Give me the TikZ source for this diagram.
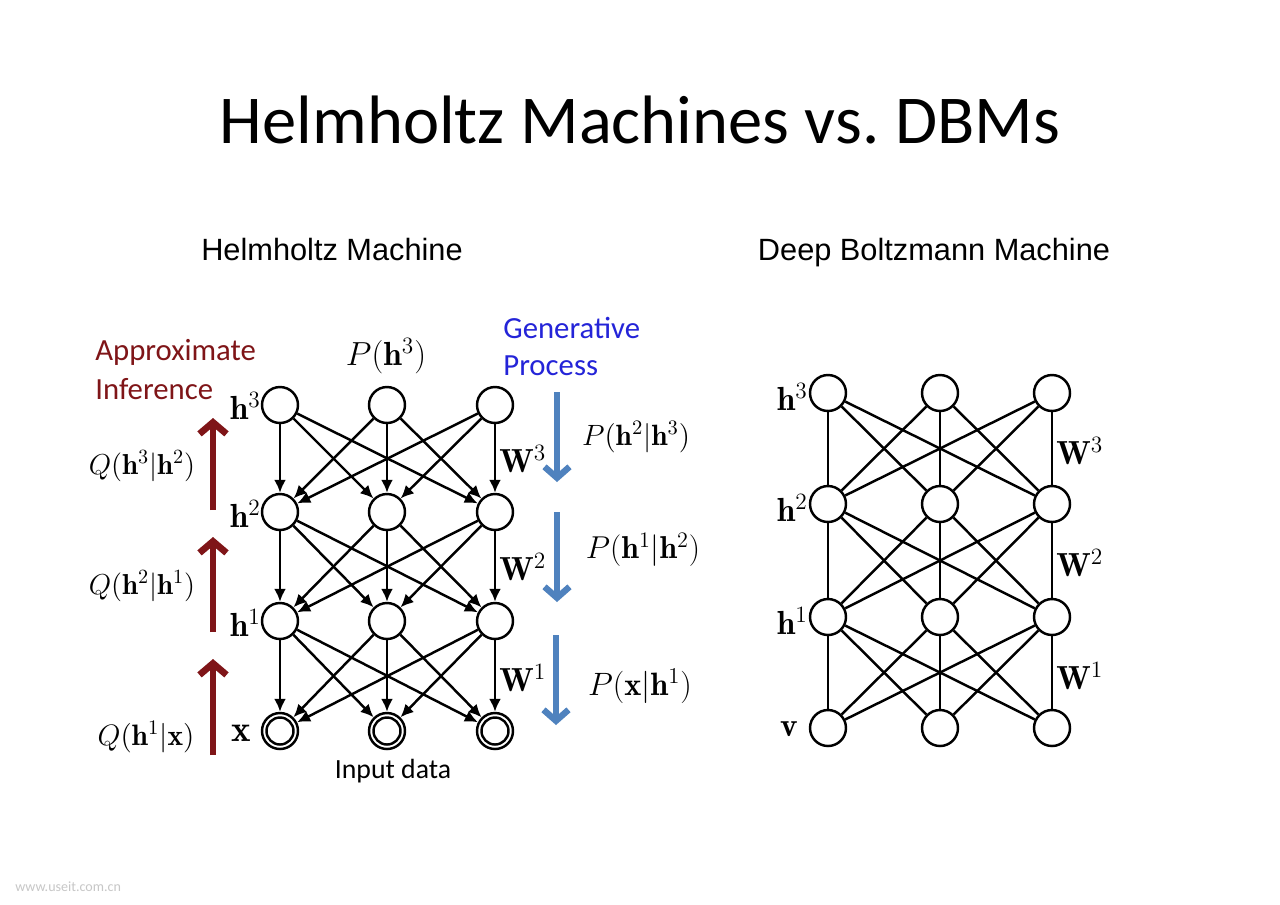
\RequirePackage{fix-cm}
\documentclass[tikz,border=0pt]{standalone}
\usepackage{fontspec}
\usetikzlibrary{arrows.meta}
\newfontfamily\calib{Carlito}
\newfontfamily\arialf{Liberation Sans}
\definecolor{myred}{HTML}{7F1518}
\definecolor{myblue}{HTML}{2424D8}
\definecolor{steel}{HTML}{4F82BE}
\newcommand{\fs}[1]{\fontsize{#1}{#1}\selectfont}
\begin{document}
\begin{tikzpicture}[x=0.02cm,y=-0.02cm,
  unit/.style={circle,draw,line width=1.4pt,minimum size=0.72cm,inner sep=0pt},
  dirarr/.style={line width=1.4pt,-{Latex[length=2.6mm,width=2.4mm]}},
  undir/.style={line width=1.4pt},
  lab/.style={inner sep=0pt},
  redarr/.style={draw=myred,line width=3.8pt,-{Straight Barb[length=2.3mm,width=5.4mm]}},
  bluearr/.style={draw=steel,line width=3.6pt,-{Straight Barb[length=2.2mm,width=5mm]}},
  hdr/.style={inner sep=0pt,font=\arialf\fs{17.5},anchor=base},
  cal/.style={inner sep=0pt,font=\calib\fs{17.5},anchor=west}
]
\fill[white] (0,0) rectangle (1280,904);
\useasboundingbox (0,0) rectangle (1280,904);

\node[inner sep=0pt] (title) at (640,120) {\calib\fs{39}Helmholtz Machines vs.\ DBMs};
\node[hdr] (hm) at (332,260) {Helmholtz Machine};
\node[hdr] (dbm) at (934,260) {Deep Boltzmann Machine};

% ---------- Helmholtz machine ----------
\foreach \i/\x in {1/280,2/387,3/495}{
  \node[unit] (A\i) at (\x,405) {};
  \node[unit] (B\i) at (\x,512) {};
  \node[unit] (C\i) at (\x,621) {};
  \node[unit] (D\i) at (\x,731) {};
  \draw[line width=1.4pt] (D\i.center) circle[radius=0.27cm];
}
\foreach \a in {1,2,3}{
  \foreach \b in {1,2,3}{
    \draw[dirarr] (A\a) -- (B\b);
    \draw[dirarr] (B\a) -- (C\b);
    \draw[dirarr] (C\a) -- (D\b);
  }
}
\node[lab,anchor=east] (lh3) at (261,406) {\fs{19}$\mathbf{h}^3$};
\node[lab,anchor=east] (lh2) at (261,514) {\fs{19}$\mathbf{h}^2$};
\node[lab,anchor=east] (lh1) at (261,623) {\fs{19}$\mathbf{h}^1$};
\node[lab,anchor=east] (lx) at (251,733) {\fs{21}$\mathbf{x}$};
\node[lab,anchor=west] (lw3) at (499,459) {\fs{19}$\mathbf{W}^3$};
\node[lab,anchor=west] (lw2) at (499,567) {\fs{19}$\mathbf{W}^2$};
\node[lab,anchor=west] (lw1) at (499,678) {\fs{19}$\mathbf{W}^1$};

\node[lab] (ph3) at (386,356) {\fs{19}$P(\mathbf{h}^3)$};
\node[lab] (q3) at (142,466) {\fs{16.4}$Q(\mathbf{h}^3|\mathbf{h}^2)$};
\node[lab] (q2) at (142,586) {\fs{16.4}$Q(\mathbf{h}^2|\mathbf{h}^1)$};
\node[lab] (q1) at (146,737) {\fs{16.8}$Q(\mathbf{h}^1|\mathbf{x})$};
\node[lab] (p2) at (636,437) {\fs{16.7}$P(\mathbf{h}^2|\mathbf{h}^3)$};
\node[lab] (p1) at (643,550) {\fs{18}$P(\mathbf{h}^1|\mathbf{h}^2)$};
\node[lab] (p0) at (640,686) {\fs{18.4}$P(\mathbf{x}|\mathbf{h}^1)$};

\node[cal,text=myred] (ai1) at (95,352) {Approximate};
\node[cal,text=myred] (ai2) at (95,389) {Inference};
\node[cal,text=myblue] (gp1) at (503,328) {Generative};
\node[cal,text=myblue] (gp2) at (503,366) {Process};
\node[inner sep=0pt,font=\calib\fs{15.8}] (inp) at (393,771) {Input data};

\coordinate (r1s) at (213,510); \coordinate (r1e) at (213,418);
\coordinate (r2s) at (213,632); \coordinate (r2e) at (213,537);
\coordinate (r3s) at (213,755); \coordinate (r3e) at (213,659);
\draw[redarr] (r1s) -- (r1e);
\draw[redarr] (r2s) -- (r2e);
\draw[redarr] (r3s) -- (r3e);

\coordinate (b1s) at (557,392); \coordinate (b1e) at (557,482);
\coordinate (b2s) at (557,512); \coordinate (b2e) at (557,602);
\coordinate (b3s) at (556,635); \coordinate (b3e) at (556,725);
\draw[bluearr] (b1s) -- (b1e);
\draw[bluearr] (b2s) -- (b2e);
\draw[bluearr] (b3s) -- (b3e);

% ---------- Deep Boltzmann machine ----------
\foreach \i/\x in {1/828,2/940,3/1052}{
  \node[unit] (E\i) at (\x,393) {};
  \node[unit] (F\i) at (\x,504) {};
  \node[unit] (G\i) at (\x,617) {};
  \node[unit] (H\i) at (\x,728) {};
}
\foreach \a in {1,2,3}{
  \foreach \b in {1,2,3}{
    \draw[undir] (E\a) -- (F\b);
    \draw[undir] (F\a) -- (G\b);
    \draw[undir] (G\a) -- (H\b);
  }
}
\node[lab,anchor=east] (rh3) at (808,397) {\fs{19}$\mathbf{h}^3$};
\node[lab,anchor=east] (rh2) at (808,508) {\fs{19}$\mathbf{h}^2$};
\node[lab,anchor=east] (rh1) at (808,621) {\fs{19}$\mathbf{h}^1$};
\node[lab,anchor=east] (rv) at (798,729) {\fs{19}$\mathbf{v}$};
\node[lab,anchor=west] (rw3) at (1056,451) {\fs{19}$\mathbf{W}^3$};
\node[lab,anchor=west] (rw2) at (1056,563) {\fs{19}$\mathbf{W}^2$};
\node[lab,anchor=west] (rw1) at (1056,676) {\fs{19}$\mathbf{W}^1$};

\node[inner sep=0pt,anchor=west,text=black!22,font=\calib\fs{8}] (wm) at (15,887) {www.useit.com.cn};
\end{tikzpicture}
\end{document}
